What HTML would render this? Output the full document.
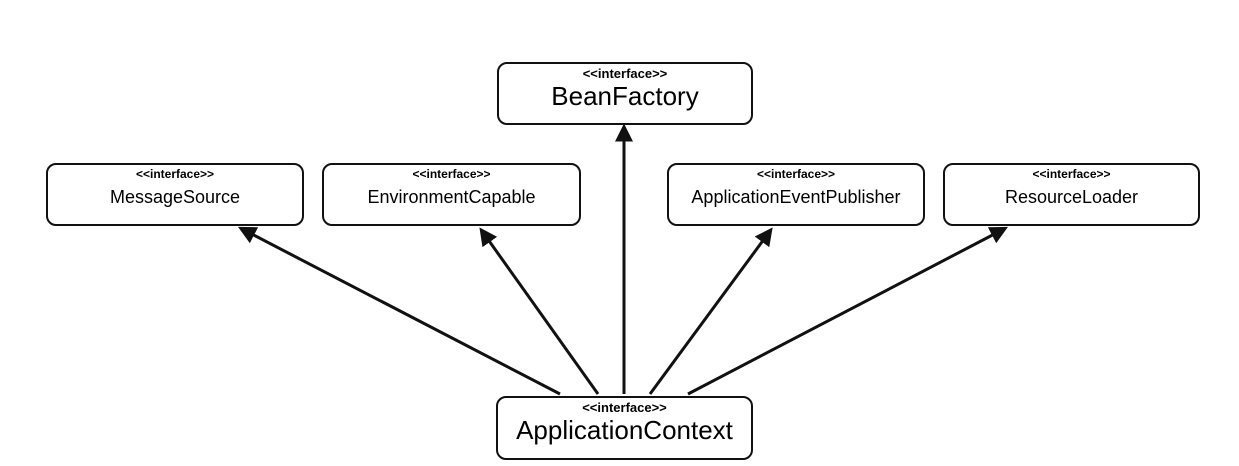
<!DOCTYPE html>
<html><head><meta charset="utf-8"><style>
body{margin:0;background:#fff;width:1239px;height:466px;overflow:hidden;position:relative;font-family:"Liberation Sans",Arial,sans-serif}
.b{position:absolute;border:2.5px solid #111;border-radius:10px;box-sizing:border-box;text-align:center;background:#fff}
.s{font-size:12px;font-weight:bold;margin-top:3px;line-height:13px}
.n{font-size:18px;line-height:22px;margin-top:5px}
.big .s{font-size:13px}
.big .n{font-size:26px;line-height:28px;margin-top:2px}
</style></head><body>
<svg width="1239" height="466" style="position:absolute;left:0;top:0">
<defs><marker id="a" markerWidth="6" markerHeight="6" refX="4.5" refY="3" orient="auto" markerUnits="strokeWidth"><path d="M0,0 L6,3 L0,6 z" fill="#111"/></marker></defs>
<g stroke="#111" stroke-width="3" fill="none" marker-end="url(#a)">
<line x1="560" y1="394" x2="242" y2="229"/>
<line x1="598" y1="394" x2="482" y2="231"/>
<line x1="624" y1="394" x2="624" y2="128"/>
<line x1="650" y1="394" x2="770" y2="231"/>
<line x1="688" y1="394" x2="1004" y2="229"/>
</g></svg>
<div class="b big" style="left:497px;top:62px;width:256px;height:63px"><div class="s">&lt;&lt;interface&gt;&gt;</div><div class="n">BeanFactory</div></div>
<div class="b" style="left:46px;top:163px;width:258px;height:63px"><div class="s">&lt;&lt;interface&gt;&gt;</div><div class="n">MessageSource</div></div>
<div class="b" style="left:322px;top:163px;width:259px;height:63px"><div class="s">&lt;&lt;interface&gt;&gt;</div><div class="n">EnvironmentCapable</div></div>
<div class="b" style="left:667px;top:163px;width:258px;height:63px"><div class="s">&lt;&lt;interface&gt;&gt;</div><div class="n">ApplicationEventPublisher</div></div>
<div class="b" style="left:943px;top:163px;width:257px;height:63px"><div class="s">&lt;&lt;interface&gt;&gt;</div><div class="n">ResourceLoader</div></div>
<div class="b big" style="left:496px;top:396px;width:257px;height:64px"><div class="s">&lt;&lt;interface&gt;&gt;</div><div class="n">ApplicationContext</div></div>
</body></html>
